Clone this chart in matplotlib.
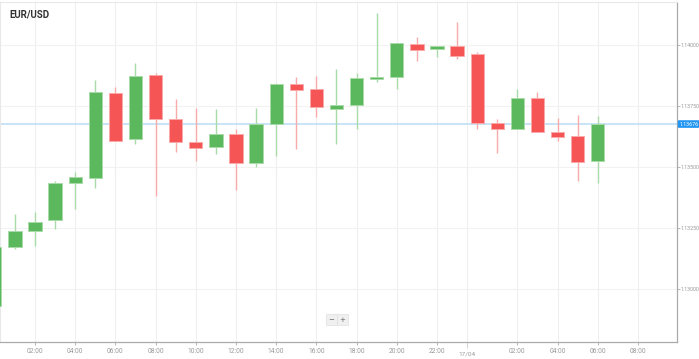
import numpy as np
import matplotlib
matplotlib.use("Agg")
import matplotlib.pyplot as plt

# hourly candles, 16/04 00:00 .. 17/04 06:00 (x = hours since 16/04 00:00)
hours = list(range(0, 31))
opens = [1.12930, 1.13172, 1.13238, 1.13283, 1.13434, 1.13455, 1.13803, 1.13615,
         1.13877, 1.13697, 1.13602, 1.13582, 1.13635, 1.13516, 1.13676, 1.13840,
         1.13820, 1.13738, 1.13754, 1.13861, 1.13869, 1.14004, 1.13984, 1.13996,
         1.13963, 1.13680, 1.13656, 1.13783, 1.13643, 1.13627, 1.13525]
highs = [1.13180, 1.13307, 1.13316, 1.13443, 1.13480, 1.13857, 1.13828, 1.13926,
         1.13885, 1.13779, 1.13742, 1.13738, 1.13656, 1.13742, 1.13844, 1.13869,
         1.13873, 1.13902, 1.13885, 1.14131, 1.14008, 1.14033, 1.13996, 1.14094,
         1.13971, 1.13697, 1.13820, 1.13807, 1.13701, 1.13713, 1.13709]
lows = [1.12926, 1.13164, 1.13176, 1.13246, 1.13328, 1.13414, 1.13607, 1.13594,
        1.13381, 1.13561, 1.13525, 1.13553, 1.13406, 1.13500, 1.13545, 1.13574,
        1.13705, 1.13594, 1.13656, 1.13848, 1.13820, 1.13934, 1.13951, 1.13943,
        1.13656, 1.13557, 1.13656, 1.13643, 1.13607, 1.13443, 1.13434]
closes = [1.13172, 1.13238, 1.13275, 1.13434, 1.13459, 1.13807, 1.13607, 1.13873,
          1.13697, 1.13602, 1.13578, 1.13635, 1.13516, 1.13676, 1.13840, 1.13816,
          1.13746, 1.13754, 1.13865, 1.13869, 1.14008, 1.13980, 1.13996, 1.13955,
          1.13680, 1.13656, 1.13783, 1.13643, 1.13623, 1.13520, 1.13676]
last_price = 1.13676

xtick_pos = [2, 4, 6, 8, 10, 12, 14, 16, 18, 20, 22, 26, 28, 30, 32]
xtick_labels = ["02:00", "04:00", "06:00", "08:00", "10:00", "12:00", "14:00", "16:00",
                "18:00", "20:00", "22:00", "02:00", "04:00", "06:00", "08:00"]
day_pos = 23.5
day_label = "17/04"
ytick_pos = [1.13000, 1.13250, 1.13500, 1.13750, 1.14000]

green, green_l = "#5cb85c", "#a9dba9"
red, red_l = "#f65555", "#f9aaaa"
fonts = ["Roboto", "DejaVu Sans"]

fig = plt.figure(figsize=(6.99, 3.59), dpi=100)
ax = fig.add_axes([0, 1 - 342 / 359, 677 / 699, 340 / 359])

x = np.array(hours, dtype=float)
o = np.array(opens)
c = np.array(closes)
up = c >= o
body_col = np.where(up, green, red)
wick_col = np.where(up, green_l, red_l)

ax.vlines(x, lows, highs, colors=wick_col, linewidth=1, zorder=2)
ax.bar(x, np.maximum(np.abs(c - o), 0.00003), bottom=np.minimum(o, c), width=0.66,
       color=body_col, edgecolor=wick_col, linewidth=0.7, zorder=3)

ax.axhline(last_price, color="#b9dcf5", linewidth=1.1, zorder=1)

ax.set_xlim(0.26, 33.94)
ax.set_ylim(1.12783, 1.14176)

ax.set_xticks(xtick_pos)
ax.set_xticklabels(xtick_labels)
ax.set_xticks([day_pos], minor=True)
ax.set_xticklabels([day_label], minor=True)
ax.tick_params(axis="x", which="major", length=2.5, width=0.6, color="#aaaaaa",
               labelsize=4.8, labelcolor="#999999", pad=1.5)
ax.tick_params(axis="x", which="minor", length=4, width=0.6, color="#cccccc",
               labelsize=4.6, labelcolor="#999999", pad=3)

ax.yaxis.tick_right()
ax.set_yticks(ytick_pos)
ax.set_yticklabels(["%.5f" % v for v in ytick_pos])
ax.tick_params(axis="y", length=2, width=0.6, color="#aaaaaa",
               labelsize=3.8, labelcolor="#999999", pad=0.8)

for p in xtick_pos + [day_pos]:
    ax.axvline(p, color="#efefef", linewidth=0.8, zorder=0)
for p in ytick_pos:
    ax.axhline(p, color="#f2f2f2", linewidth=0.8, zorder=0)

for s in ["top", "left"]:
    ax.spines[s].set_color("#e8e8e8")
    ax.spines[s].set_linewidth(0.8)
for s in ["right", "bottom"]:
    ax.spines[s].set_color("#aaaaaa")
    ax.spines[s].set_linewidth(0.9)

for lab in ax.get_xticklabels(which="both") + ax.get_yticklabels():
    lab.set_family(fonts)

ax.text(0.014, 0.962, "EUR/USD", transform=ax.transAxes, fontsize=7,
        fontweight="bold", color="#333333", family=fonts,
        ha="left", va="center")

ax.annotate("%.5f" % last_price, xy=(1.0, last_price),
            xycoords=("axes fraction", "data"), xytext=(1.5, 0),
            textcoords="offset points", fontsize=3.8, color="white",
            family=fonts, va="center", ha="left",
            bbox=dict(boxstyle="round,pad=0.25,rounding_size=0.2",
                      fc="#2196f3", ec="none"),
            annotation_clip=False)

for label, xf in [("\u2212", 0.4895), ("+", 0.5060)]:
    ax.text(xf, 0.065, label, transform=ax.transAxes, fontsize=5, color="#666666",
            ha="center", va="center",
            bbox=dict(boxstyle="square,pad=0.35", fc="#f0f0f0", ec="#e0e0e0", lw=0.5))

plt.savefig("out.png", dpi=100)
